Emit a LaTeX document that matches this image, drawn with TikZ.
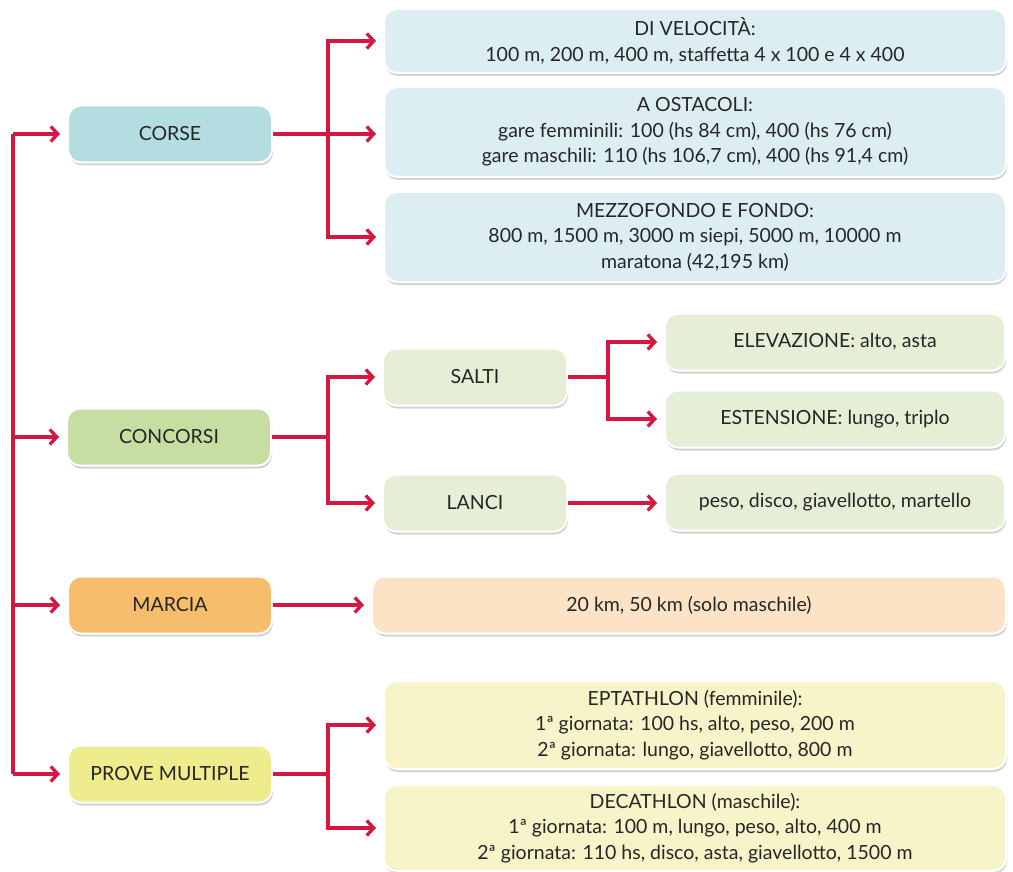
\documentclass[tikz,border=0pt]{standalone}
\usepackage{fontspec}
\setmainfont{Lato}
\usetikzlibrary{arrows.meta,shadows}
\definecolor{lred}{HTML}{D6173F}
\definecolor{txt}{HTML}{262626}
\definecolor{blueA}{HTML}{B4DDE2}
\definecolor{blueB}{HTML}{DCEEF2}
\definecolor{greenA}{HTML}{C7DEA2}
\definecolor{greenB}{HTML}{E4EFD6}
\definecolor{orA}{HTML}{F6BD6C}
\definecolor{orB}{HTML}{FDE3C6}
\definecolor{yeA}{HTML}{EEEC8C}
\definecolor{yeB}{HTML}{F7F4C9}
\tikzset{
  box/.style={rounded corners=13pt, draw=white, line width=2pt, align=center, inner sep=0pt,
    text=txt, font=\fontsize{19.5}{25.5}\selectfont,
    drop shadow={shadow xshift=1pt, shadow yshift=-3pt, opacity=0.25, fill=black!70}},
  conn/.style={draw=lred, line width=3.3pt},
  arr/.style={conn, -{Straight Barb[length=7pt,width=15pt]}, shorten >=7pt},
}
\begin{document}
\begin{tikzpicture}[x=1pt,y=-1pt]
\useasboundingbox (0,0) rectangle (1013,872);
% level 1
\node[box, fill=blueA, minimum width=204pt, minimum height=57pt] (corse) at (170,134) {CORSE};
\node[box, fill=greenA, minimum width=204pt, minimum height=57pt] (conc) at (169,437) {CONCORSI};
\node[box, fill=orA, minimum width=204pt, minimum height=57pt] (marcia) at (170,605) {MARCIA};
\node[box, fill=yeA, minimum width=204pt, minimum height=57pt] (prove) at (170,774) {PROVE MULTIPLE};
% corse children
\node[box, fill=blueB, minimum width=622pt, minimum height=64pt] (vel) at (695,41) {DI VELOCITÀ:\\100 m, 200 m, 400 m, staffetta 4 x 100 e 4 x 400};
\node[box, fill=blueB, minimum width=622pt, minimum height=90pt] (ost) at (695,132) {A OSTACOLI:\\gare femminili: 100 (hs 84 cm), 400 (hs 76 cm)\\gare maschili: 110 (hs 106,7 cm), 400 (hs 91,4 cm)};
\node[box, fill=blueB, minimum width=622pt, minimum height=90pt] (mezzo) at (695,237) {MEZZOFONDO E FONDO:\\800 m, 1500 m, 3000 m siepi, 5000 m, 10000 m\\maratona (42,195 km)};
% concorsi children
\node[box, fill=greenB, minimum width=184pt, minimum height=57pt] (salti) at (475,377) {SALTI};
\node[box, fill=greenB, minimum width=184pt, minimum height=57pt] (lanci) at (475,503) {LANCI};
\node[box, fill=greenB, minimum width=340pt, minimum height=57pt] (elev) at (835,342) {ELEVAZIONE: alto, asta};
\node[box, fill=greenB, minimum width=340pt, minimum height=57pt] (est) at (835,419) {ESTENSIONE: lungo, triplo};
\node[box, fill=greenB, minimum width=340pt, minimum height=57pt] (peso) at (835,502) {peso, disco, giavellotto, martello};
% marcia child
\node[box, fill=orB, minimum width=634pt, minimum height=57pt] (km) at (689,605) {20 km, 50 km (solo maschile)};
% prove children
\node[box, fill=yeB, minimum width=622pt, minimum height=88pt] (epta) at (695,725) {EPTATHLON (femminile):\\1ª giornata: 100 hs, alto, peso, 200 m\\2ª giornata: lungo, giavellotto, 800 m};
\node[box, fill=yeB, minimum width=622pt, minimum height=86pt] (deca) at (695,828) {DECATHLON (maschile):\\1ª giornata: 100 m, lungo, peso, alto, 400 m\\2ª giornata: 110 hs, disco, asta, giavellotto, 1500 m};
% junctions
\coordinate (tt) at (13,134);
\coordinate (tb) at (13,774);
\coordinate (jc) at (328,134);
\coordinate (jk) at (328,437);
\coordinate (js) at (608,377);
\coordinate (jp) at (328,774);
% trunk
\draw[conn] (tt) -- (tb);
\draw[arr] (tt) -- (corse.west);
\draw[arr] (tt |- conc.west) -- (conc.west);
\draw[arr] (tt |- marcia.west) -- (marcia.west);
\draw[arr] (tb) -- (prove.west);
% corse
\draw[conn] (corse.east) -- (jc);
\draw[arr] (jc) |- (vel.west);
\draw[arr] (jc) -- (jc -| ost.west);
\draw[arr] (jc) |- (mezzo.west);
% concorsi
\draw[conn] (conc.east) -- (jk);
\draw[arr] (jk) |- (salti.west);
\draw[arr] (jk) |- (lanci.west);
\draw[conn] (salti.east) -- (js);
\draw[arr] (js) |- (elev.west);
\draw[arr] (js) |- (est.west);
\draw[arr] (lanci.east) -- (lanci.east -| peso.west);
% marcia
\draw[arr] (marcia.east) -- (km.west);
% prove
\draw[conn] (prove.east) -- (jp);
\draw[arr] (jp) |- (epta.west);
\draw[arr] (jp) |- (deca.west);
\end{tikzpicture}
\end{document}
